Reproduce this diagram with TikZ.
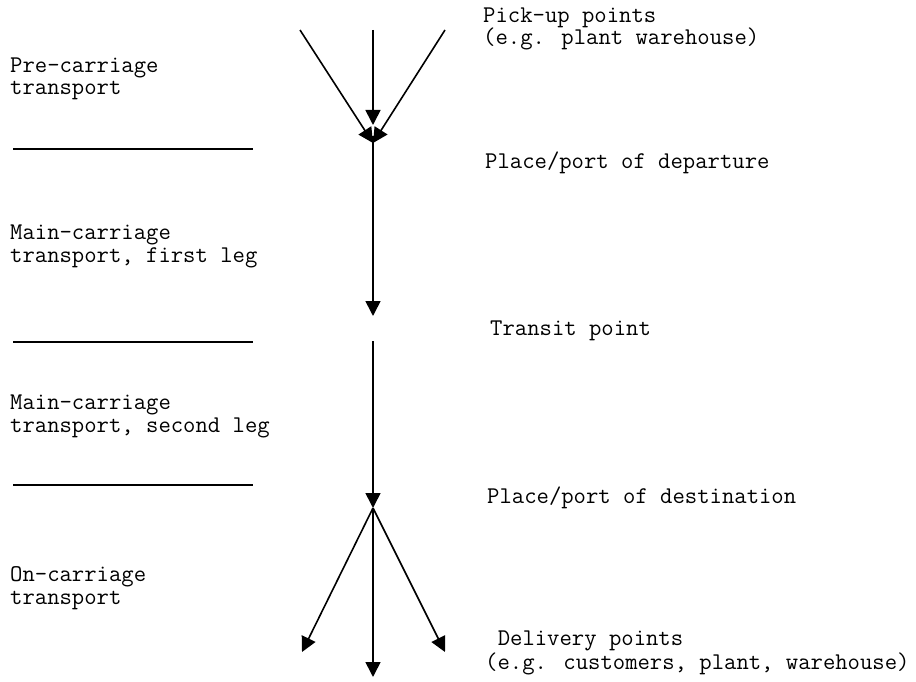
\documentclass[tikz,border=0pt]{standalone}
\usepackage{fontspec}
\usetikzlibrary{arrows.meta}
\begin{document}
\begin{tikzpicture}[x=1pt,y=-1pt,
  lbl/.style={font=\ttfamily\fontsize{24}{22.5}\selectfont,anchor=base west,inner sep=0pt,align=left},
  rlbl/.style={lbl,font=\ttfamily\fontsize{24}{20.5}\selectfont},
  flow/.style={line width=1.6pt,-{Triangle[length=15pt,width=15pt]}},
  sep/.style={line width=1.6pt}]
\useasboundingbox (0,0) rectangle (916,682);
% left labels (anchor = baseline of last line)
\node[lbl] (pre) at (10,95) {Pre-carriage\\transport};
\node[lbl] (main1) at (10,262) {Main-carriage\\transport, first leg};
\node[lbl] (main2) at (10,432) {Main-carriage\\transport, second leg};
\node[lbl] (on) at (10,604) {On-carriage\\transport};
% separators
\coordinate (s1a) at (13,149); \coordinate (s1b) at (253,149);
\coordinate (s2a) at (13,342); \coordinate (s2b) at (253,342);
\coordinate (s3a) at (13,485); \coordinate (s3b) at (253,485);
\draw[sep] (s1a) -- (s1b);
\draw[sep] (s2a) -- (s2b);
\draw[sep] (s3a) -- (s3b);
% right labels
\node[rlbl] (pick) at (483,45) {Pick-up points\\(e.g. plant warehouse)};
\node[rlbl] (dept) at (485,168) {Place/port of departure};
\node[rlbl] (trans) at (490,335) {Transit point};
\node[rlbl] (dest) at (487,503) {Place/port of destination};
\node[rlbl] (deliv) at (485,669) {\hspace{12.6pt}Delivery points\\(e.g. customers, plant, warehouse)};
% flow coordinates
\coordinate (p1) at (300,30);
\coordinate (p2) at (373,30);
\coordinate (p3) at (445,30);
\coordinate (m1) at (373,125);
\coordinate (dp) at (373,143);
\coordinate (dps) at (373,136);
\coordinate (t1) at (373,316);
\coordinate (t2) at (373,341);
\coordinate (ds) at (373,508);
\coordinate (d1) at (302,652);
\coordinate (d2) at (373,677);
\coordinate (d3) at (445,652);
\draw[flow] (p1) -- (dp);
\draw[flow] (p3) -- (dp);
\draw[flow] (p2) -- (m1);
\draw[flow] (dps) -- (t1);
\draw[flow] (t2) -- (ds);
\draw[flow] (ds) -- (d1);
\draw[flow] (ds) -- (d2);
\draw[flow] (ds) -- (d3);
\end{tikzpicture}
\end{document}
